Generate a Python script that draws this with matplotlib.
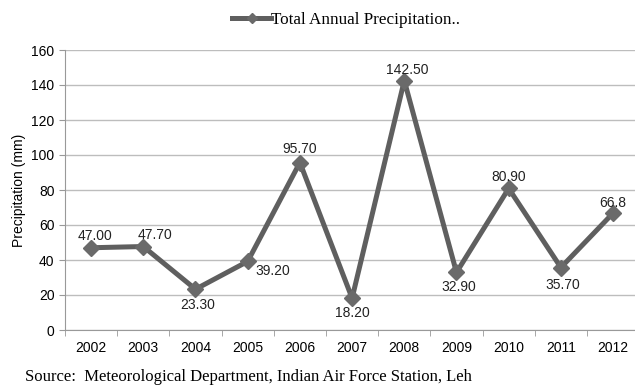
# Annual precipitation at Leh, 2002-2012
import numpy as np
import matplotlib.pyplot as plt

# Data
years = ['2002', '2003', '2004', '2005', '2006', '2007',
         '2008', '2009', '2010', '2011', '2012']
precip = [47.00, 47.70, 23.30, 39.20, 95.70, 18.20,
          142.50, 32.90, 80.90, 35.70, 66.8]
labels = ['47.00', '47.70', '23.30', '39.20', '95.70', '18.20',
          '142.50', '32.90', '80.90', '35.70', '66.8']

# Label offsets in pixels (dx, dy) from each point
offsets = [(4, 12), (12, 12), (2, -16), (25, -10), (0, 14), (0, -15),
           (3, 11), (2, -15), (0, 11), (2, -17), (0, 10)]

sans = ['Liberation Sans', 'DejaVu Sans']
serif = ['Liberation Serif', 'DejaVu Serif']

fig = plt.figure(figsize=(6.35, 3.86), dpi=100)
ax = fig.add_axes([65 / 635, 56 / 386, 1 - 65 / 635, 280 / 386])

x = np.arange(len(years))
line, = ax.plot(x, precip, color='#5f5f5f', linewidth=3.6, marker='D',
                markersize=8, markerfacecolor='#6a6a6a',
                markeredgecolor='#6a6a6a', zorder=3)

for xi, yi, lab, (dx, dy) in zip(x, precip, labels, offsets):
    ax.annotate(lab, (xi, yi), xytext=(dx, dy), textcoords='offset pixels',
                ha='center', va='center', fontsize=10, family=sans,
                color='#222222')

ax.set_ylim(0, 160)
ax.set_yticks(range(0, 161, 20))
ax.set_xlim(-0.5, 10.42)
ax.set_xticks(x)
ax.set_xticklabels(years, family=sans, fontsize=10)
ax.set_xticks(np.arange(-0.5, 10.5, 1), minor=True)
ax.tick_params(axis='x', which='major', length=0, pad=8)
ax.tick_params(axis='x', which='minor', length=4, color='#999999')
ax.tick_params(axis='y', length=4, color='#999999', labelsize=10)
for t in ax.get_yticklabels():
    t.set_family(sans)

ax.grid(axis='y', color='#bdbdbd', linewidth=1)
ax.set_axisbelow(True)
for s in ['top', 'right']:
    ax.spines[s].set_visible(False)
ax.spines['left'].set_color('#999999')
ax.spines['bottom'].set_color('#999999')

ax.set_ylabel('Precipitation (mm)', family=sans, fontsize=10, labelpad=4)

fig.legend([line], ['Total Annual Precipitation..'], loc='center',
           bbox_to_anchor=(346 / 635, 1 - 20 / 386), frameon=False,
           prop={'family': serif, 'size': 12.3}, handlelength=2.3,
           handletextpad=0.0, markerscale=0.6)

fig.text(25 / 635, 1 - 377 / 386,
         'Source:  Meteorological Department, Indian Air Force Station, Leh',
         family=serif, fontsize=12.0, va='center', ha='left')

fig.savefig('out.png', dpi=100)
